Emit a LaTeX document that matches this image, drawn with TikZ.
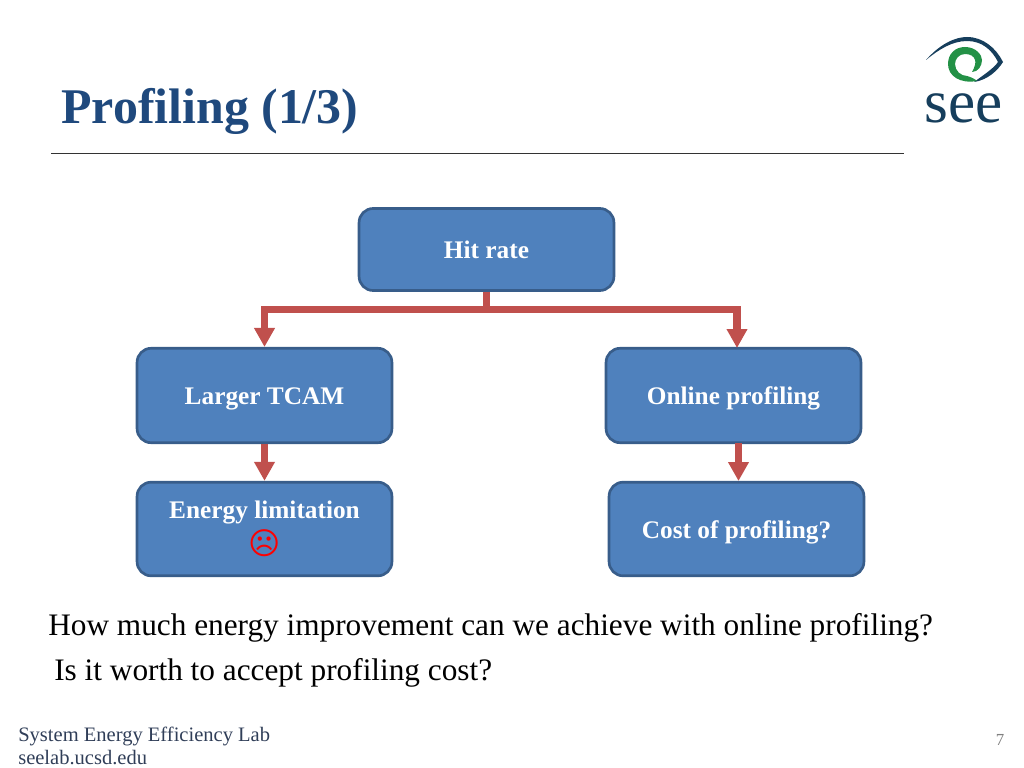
\documentclass[tikz,border=0pt]{standalone}
\usepackage{fontspec}
\setmainfont{Liberation Serif}
\newfontfamily\symfont{DejaVu Sans}
\usetikzlibrary{arrows.meta,positioning}
\definecolor{seeblue}{RGB}{79,129,189}
\definecolor{seeborder}{RGB}{56,93,138}
\definecolor{seered}{RGB}{192,80,77}
\definecolor{seetitle}{RGB}{31,73,125}
\definecolor{seefoot}{RGB}{48,62,88}
\definecolor{seenavy}{RGB}{22,62,92}
\definecolor{seegreen}{RGB}{35,145,70}
\tikzstyle{flowbox} = [rectangle, rounded corners=10pt, minimum width=6.37cm, draw=seeborder, fill=seeblue, line width=1.9pt, text=white, font=\fontsize{18}{22}\selectfont\bfseries, align=center]
\tikzstyle{onelabel} = [text height=16.5pt, text depth=3pt]
\tikzstyle{arrow} = [line width=5pt, color=seered, -{Triangle[width=14pt,length=13.5pt]}]
\begin{document}
\begin{tikzpicture}[x=0.025cm,y=-0.025cm]
    \useasboundingbox (0,0) rectangle (1024,768);
    % Title
    \node[anchor=base west, inner sep=0pt, text=seetitle, font=\fontsize{35.5}{40}\selectfont\bfseries] (title) at (61,124) {Profiling (1/3)};
    \coordinate (ruleleft) at (51,153);
    \coordinate (ruleright) at (904,153);
    \draw[line width=0.6pt, color=black!80] (ruleleft) -- (ruleright);

    % Logo
    \fill[seenavy] (926,60) .. controls (940,44) and (955,37) .. (967,37) .. controls (983,37) and (996,48) .. (1003,62) .. controls (998,70) and (988,80) .. (974,82) .. controls (985,74) and (994,68) .. (998,62) .. controls (992,50) and (982,41) .. (967,41) .. controls (952,41) and (938,50) .. (926,60) -- cycle;
    \fill[seegreen] (977,81) .. controls (960,84) and (948,76) .. (948,64) .. controls (948,54) and (955,47) .. (965,47) .. controls (976,47) and (982,55) .. (982,60) .. controls (982,66) and (978,72) .. (972,72) .. controls (975,67) and (976,62) .. (975,60) .. controls (974,56) and (970,54) .. (965,54) .. controls (959,54) and (955,59) .. (955,64) .. controls (955,71) and (961,76) .. (967,76) .. controls (971,77) and (975,79) .. (977,81) -- cycle;
    \node[anchor=base, inner sep=0pt, text=seenavy, font=\fontsize{43.5}{44}\selectfont] (logo) at (964,123) {see};

    % Boxes
    \node[flowbox, onelabel, minimum height=2.05cm] (hit) at (486.5,249.5) {Hit rate};
    \node[flowbox, onelabel, minimum height=2.36cm] (larger) at (264.5,395.5) {Larger TCAM};
    \node[flowbox, onelabel, minimum height=2.36cm] (online) at (733.5,395.5) {Online profiling};
    \node[flowbox, minimum height=2.34cm] (energy) at (264.5,529) {Energy limitation\\[4pt]{\symfont\color{red}\fontsize{22}{22}\selectfont\char"2639}};
    \node[flowbox, onelabel, minimum height=2.34cm] (cost) at (736.5,529) {Cost of profiling?};

    % Arrows
    \coordinate (onlinetop) at (737,348);
    \coordinate (onlinebot) at (738.5,443);
    \coordinate (costtop) at (738.5,481);
    \draw[arrow] (hit.south) -- ++(0,18) -| (larger.north);
    \draw[arrow] (hit.south) -- ++(0,18) -| (onlinetop);
    \draw[arrow] (larger.south) -- (energy.north);
    \draw[arrow] (onlinebot) -- (costtop);

    % Question text
    \node[anchor=base west, inner sep=0pt, font=\fontsize{22.25}{26}\selectfont] (question) at (48,635) {How much energy improvement can we achieve with online profiling?};
    \node[anchor=base west, inner sep=0pt, font=\fontsize{22.25}{26}\selectfont] (worth) at (54,680) {Is it worth to accept profiling cost?};

    % Footer
    \node[anchor=base west, inner sep=0pt, color=seefoot, font=\fontsize{14.6}{16}\selectfont] (lab) at (18,741) {System Energy Efficiency Lab};
    \node[anchor=base west, inner sep=0pt, color=seefoot, font=\fontsize{14.6}{16}\selectfont] (site) at (18,764) {seelab.ucsd.edu};
    \node[anchor=base, inner sep=0pt, color=black!50, font=\fontsize{12}{14}\selectfont] (page) at (1000,745) {7};
\end{tikzpicture}
\end{document}
